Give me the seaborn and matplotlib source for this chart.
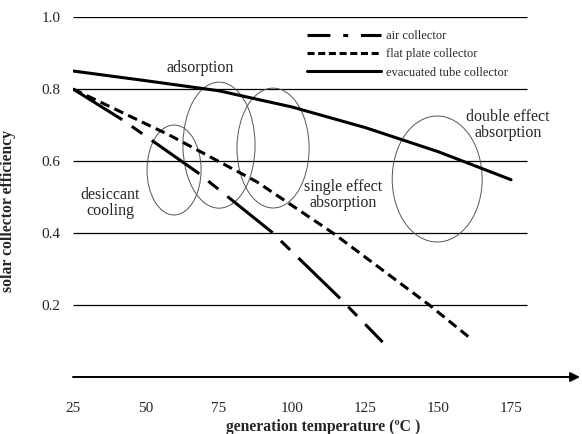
import numpy as np
import pandas as pd
import seaborn as sns
import matplotlib.pyplot as plt
from matplotlib.patches import Ellipse

# collector curves
air_temp = [25, 42, 67.5, 93, 116, 131]
air_eff = [0.80, 0.714, 0.569, 0.403, 0.222, 0.097]

flat_temp = [25, 58, 88, 114, 147, 161]
flat_eff = [0.80, 0.672, 0.542, 0.40, 0.20, 0.108]

tube_temp = [25, 50, 75, 100, 125, 150, 175]
tube_eff = [0.85, 0.823, 0.795, 0.75, 0.693, 0.626, 0.548]

series_names = ["air collector", "flat plate collector", "evacuated tube collector"]

# cooling technology regions: centre T, centre eff, width, height
region_names = ["desiccant", "adsorption", "single effect", "double effect"]
region_x = [59.6, 75, 93.5, 149.7]
region_y = [0.575, 0.644, 0.636, 0.55]
region_w = [18.5, 24.7, 24.7, 30.8]
region_h = [0.25, 0.35, 0.333, 0.35]

x_ticks = [25, 50, 75, 100, 125, 150, 175]
y_ticks = [0.2, 0.4, 0.6, 0.8, 1.0]

df = pd.concat([
    pd.DataFrame({"T": air_temp, "eff": air_eff, "collector": series_names[0]}),
    pd.DataFrame({"T": flat_temp, "eff": flat_eff, "collector": series_names[1]}),
    pd.DataFrame({"T": tube_temp, "eff": tube_eff, "collector": series_names[2]}),
])

sns.set_style("white")
plt.rcParams["font.family"] = ["Liberation Serif", "DejaVu Serif"]

fig = plt.figure(figsize=(5.82, 4.34), dpi=100)
ax = fig.add_axes([73 / 582, 57 / 434, 507 / 582, 360 / 434])

sns.lineplot(data=df, x="T", y="eff", hue="collector", style="collector",
             hue_order=series_names, style_order=series_names,
             palette=["black"] * 3,
             dashes={series_names[0]: (19, 3.8, 4.2, 3.8),
                     series_names[1]: (3.2, 1.8),
                     series_names[2]: ""},
             linewidth=2.2, sort=False, ax=ax, legend=True)

ax.set_xlim(25, 198.6)
ax.set_ylim(0, 1.0)

# horizontal grid lines
ax.hlines(y_ticks, 25, 180.5, colors="black", linewidth=0.9, zorder=0)

# arrow x axis
ax.annotate("", xy=(198.6, 0), xytext=(25, 0),
            arrowprops=dict(arrowstyle="-|>", color="black", lw=1.4,
                            mutation_scale=14, shrinkA=0, shrinkB=0),
            annotation_clip=False)

for i in range(len(region_names)):
    ax.add_patch(Ellipse((region_x[i], region_y[i]), region_w[i], region_h[i],
                         fill=False, edgecolor="#555555", linewidth=0.7))

ax.text(68.5, 0.858, "adsorption", ha="center", va="center", fontsize=11.5)
ax.text(37.7, 0.483, "desiccant\ncooling", ha="center", va="center",
        fontsize=11.5, linespacing=1.05)
ax.text(117.5, 0.506, "single effect\nabsorption", ha="center", va="center",
        fontsize=11.5, linespacing=1.05)
ax.text(174, 0.70, "double effect\nabsorption", ha="center", va="center",
        fontsize=11.5, linespacing=1.05)

for s in ax.spines.values():
    s.set_visible(False)
ax.set_xticks(x_ticks)
ax.set_yticks(y_ticks)
ax.set_yticklabels(["0.2", "0.4", "0.6", "0.8", "1.0"])
ax.tick_params(axis="y", length=0, pad=9, labelsize=11)
ax.tick_params(axis="x", length=0, pad=18, labelsize=11)
ax.grid(False)

ax.set_xlabel("generation temperature (ºC )", fontsize=11.3, fontweight="bold")
ax.set_ylabel("solar collector efficiency", fontsize=11.3, fontweight="bold")
ax.xaxis.set_label_coords(0.493, -0.118)
ax.yaxis.set_label_coords(-0.112, 0.46)

handles, labels = ax.get_legend_handles_labels()
handles[0].set_dashes((7.5, 4.2, 1.6, 4.2))
handles[1].set_dashes((2.3, 1.2))
ax.legend(handles, labels, loc="upper left", bbox_to_anchor=(0.444, 0.988),
          frameon=False, fontsize=9, handlelength=5.9, handletextpad=0.4,
          labelspacing=0.5, borderpad=0.2)

plt.savefig("out.png", dpi=100)
